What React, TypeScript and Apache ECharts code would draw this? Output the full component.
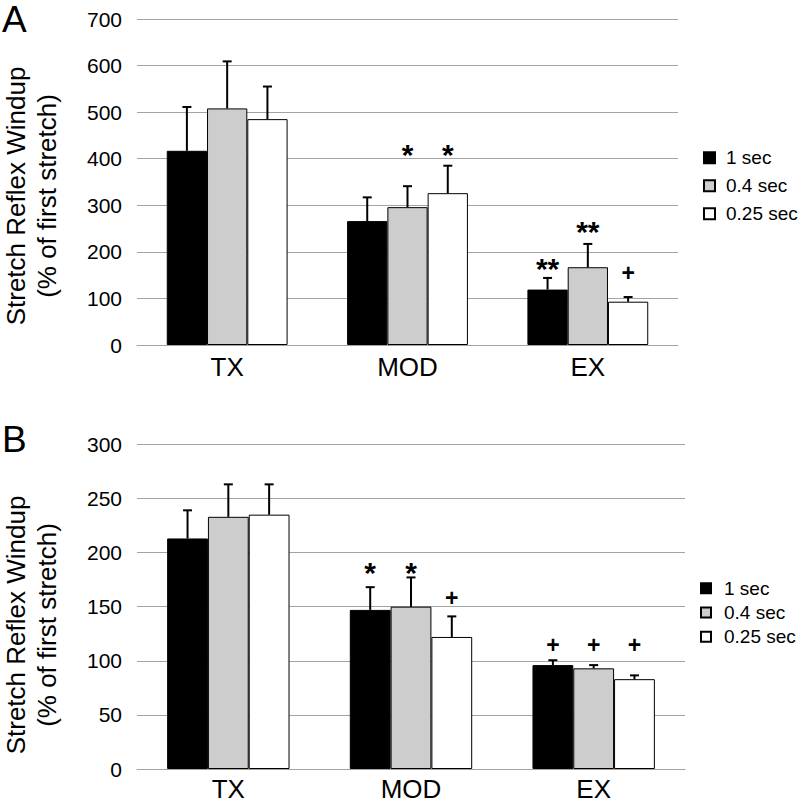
import React, { useEffect, useRef } from "react";
import * as echarts from "echarts";

// ---- Data ----
const categories = ["TX", "MOD", "EX"];
const seriesNames = ["1 sec", "0.4 sec", "0.25 sec"];

// Panel A (means and standard errors)
const aMean1 = [417, 266, 119];
const aMean04 = [508, 296, 167];
const aMean025 = [485, 326, 93];
const aSe1 = [94, 51, 25];
const aSe04 = [101, 45, 50];
const aSe025 = [70, 59, 10];
const aMarks1 = ["", "", "**"];
const aMarks04 = ["", "*", "**"];
const aMarks025 = ["", "*", "+"];
const aMarkLevel1 = [0, 0, 179];
const aMarkLevel04 = [0, 423, 258];
const aMarkLevel025 = [0, 423, 155];
const aTicks = { min: 0, max: 700, interval: 100 };

// Panel B
const bMean1 = [213, 147, 96];
const bMean04 = [233, 150, 93];
const bMean025 = [235, 122, 83];
const bSe1 = [26, 21, 4.5];
const bSe04 = [30, 27, 3];
const bSe025 = [28, 19, 3.5];
const bMarks1 = ["", "*", "+"];
const bMarks04 = ["", "*", "+"];
const bMarks025 = ["", "+", "+"];
const bMarkLevel1 = [0, 188, 115];
const bMarkLevel04 = [0, 188, 115];
const bMarkLevel025 = [0, 158, 115];
const bTicks = { min: 0, max: 300, interval: 50 };

const yTitle = "Stretch Reflex Windup\n(% of first stretch)";

// ---- Styles ----
const FONT = "'Liberation Sans', Arial, Helvetica, sans-serif";
const barColors = ["#000000", "#cdcdcd", "#ffffff"];
const GRID_COLOR = "#a3a3a3";
const GAP = 0.33;

function buildPanel(
  idx: number,
  means: number[][],
  ses: number[][],
  marks: string[][],
  levels: number[][]
) {
  const bars = means.map((m, s) => ({
    type: "bar",
    name: seriesNames[s],
    xAxisIndex: idx,
    yAxisIndex: idx,
    data: m,
    barGap: "0%",
    barCategoryGap: GAP * 100 + "%",
    itemStyle: { color: barColors[s], borderColor: "#000", borderWidth: 1 },
    z: 2,
  }));
  const data: number[][] = [];
  const texts: string[] = [];
  for (let s = 0; s < 3; s++) {
    for (let c = 0; c < 3; c++) {
      data.push([c, s, means[s][c], means[s][c] + ses[s][c], levels[s][c]]);
      texts.push(marks[s][c]);
    }
  }
  const custom = {
    type: "custom",
    xAxisIndex: idx,
    yAxisIndex: idx,
    data,
    encode: { x: 0, y: 3 },
    z: 5,
    silent: true,
    renderItem: (params: any, api: any) => {
      const c = api.value(0);
      const s = api.value(1);
      const m = api.value(2);
      const t = api.value(3);
      const lv = api.value(4);
      const band = api.size([1, 0])[0];
      const bw = (band * (1 - GAP)) / 3;
      const p0 = api.coord([c, m]);
      const p1 = api.coord([c, t]);
      const x = p0[0] + (s - 1) * bw;
      const children: any[] = [
        {
          type: "line",
          shape: { x1: x, y1: p0[1], x2: x, y2: p1[1] },
          style: { stroke: "#000", lineWidth: 2 },
        },
        {
          type: "line",
          shape: { x1: x - 4.5, y1: p1[1], x2: x + 4.5, y2: p1[1] },
          style: { stroke: "#000", lineWidth: 2 },
        },
      ];
      const txt = texts[params.dataIndex];
      if (txt) {
        const pm = api.coord([c, lv]);
        const star = txt.indexOf("*") >= 0;
        const fs = star ? 30 : 23;
        children.push({
          type: "text",
          x,
          y: pm[1] + (star ? 0.22 * fs : 0),
          style: {
            text: txt,
            fontSize: fs,
            fontWeight: "bold",
            fontFamily: FONT,
            fill: "#000",
            align: "center",
            verticalAlign: "middle",
          },
        });
      }
      return { type: "group", children };
    },
  };
  return [...bars, custom];
}

function makeYAxis(idx: number, t: { min: number; max: number; interval: number }) {
  return {
    type: "value",
    gridIndex: idx,
    min: t.min,
    max: t.max,
    interval: t.interval,
    axisLine: { show: false },
    axisTick: { show: false },
    axisLabel: { color: "#000", fontSize: 21, fontFamily: FONT, margin: 15 },
    splitLine: { show: true, lineStyle: { color: GRID_COLOR, width: 1 } },
  };
}

function makeXAxis(idx: number, margin: number) {
  return {
    type: "category",
    gridIndex: idx,
    data: categories,
    axisLine: { show: true, lineStyle: { color: GRID_COLOR, width: 1 } },
    axisTick: { show: false },
    axisLabel: { color: "#000", fontSize: 26, lineHeight: 26, fontFamily: FONT, margin },
  };
}

function makeLegend(left: number, top: number, gap: number, size: number, pad: number) {
  return {
    orient: "vertical",
    left,
    top,
    itemGap: gap,
    itemWidth: size,
    itemHeight: size,
    icon: "rect",
    data: seriesNames,
    selectedMode: false,
    textStyle: {
      color: "#000",
      fontSize: 19,
      fontFamily: FONT,
      lineHeight: 20,
      padding: [0, 0, 0, pad],
    },
  };
}

function titleText(y: number) {
  return {
    type: "text",
    x: 31,
    y,
    rotation: Math.PI / 2,
    style: {
      text: yTitle,
      fontSize: 26,
      lineHeight: 31,
      fontFamily: FONT,
      fill: "#000",
      align: "center",
      verticalAlign: "middle",
    },
  };
}

export default function App() {
  const ref = useRef<HTMLDivElement>(null);
  useEffect(() => {
    if (!ref.current) return;
    const chart = echarts.init(ref.current, null, { renderer: "svg" });
    const option: any = {
      animation: false,
      backgroundColor: "#ffffff",
      grid: [
        { left: 137, top: 19, width: 541, height: 326 },
        { left: 137, top: 444.3, width: 548, height: 324.7 },
      ],
      xAxis: [makeXAxis(0, 9), makeXAxis(1, 7)],
      yAxis: [makeYAxis(0, aTicks), makeYAxis(1, bTicks)],
      legend: [makeLegend(698, 142.7, 8, 11, 6), makeLegend(695, 573.3, 4.2, 10, 8)],
      series: [
        ...buildPanel(
          0,
          [aMean1, aMean04, aMean025],
          [aSe1, aSe04, aSe025],
          [aMarks1, aMarks04, aMarks025],
          [aMarkLevel1, aMarkLevel04, aMarkLevel025]
        ),
        ...buildPanel(
          1,
          [bMean1, bMean04, bMean025],
          [bSe1, bSe04, bSe025],
          [bMarks1, bMarks04, bMarks025],
          [bMarkLevel1, bMarkLevel04, bMarkLevel025]
        ),
      ],
      graphic: [
        {
          type: "text",
          left: 2,
          top: 1,
          style: { text: "A", fontSize: 37, fontFamily: FONT, fill: "#000" },
        },
        {
          type: "text",
          left: 2,
          top: 421,
          style: { text: "B", fontSize: 37, fontFamily: FONT, fill: "#000" },
        },
        titleText(196),
        titleText(625),
      ],
    };
    chart.setOption(option);
    return () => chart.dispose();
  }, []);
  return (
    <div
      ref={ref}
      style={{ position: "absolute", left: 0, top: 0, width: 800, height: 805, background: "#fff" }}
    />
  );
}
